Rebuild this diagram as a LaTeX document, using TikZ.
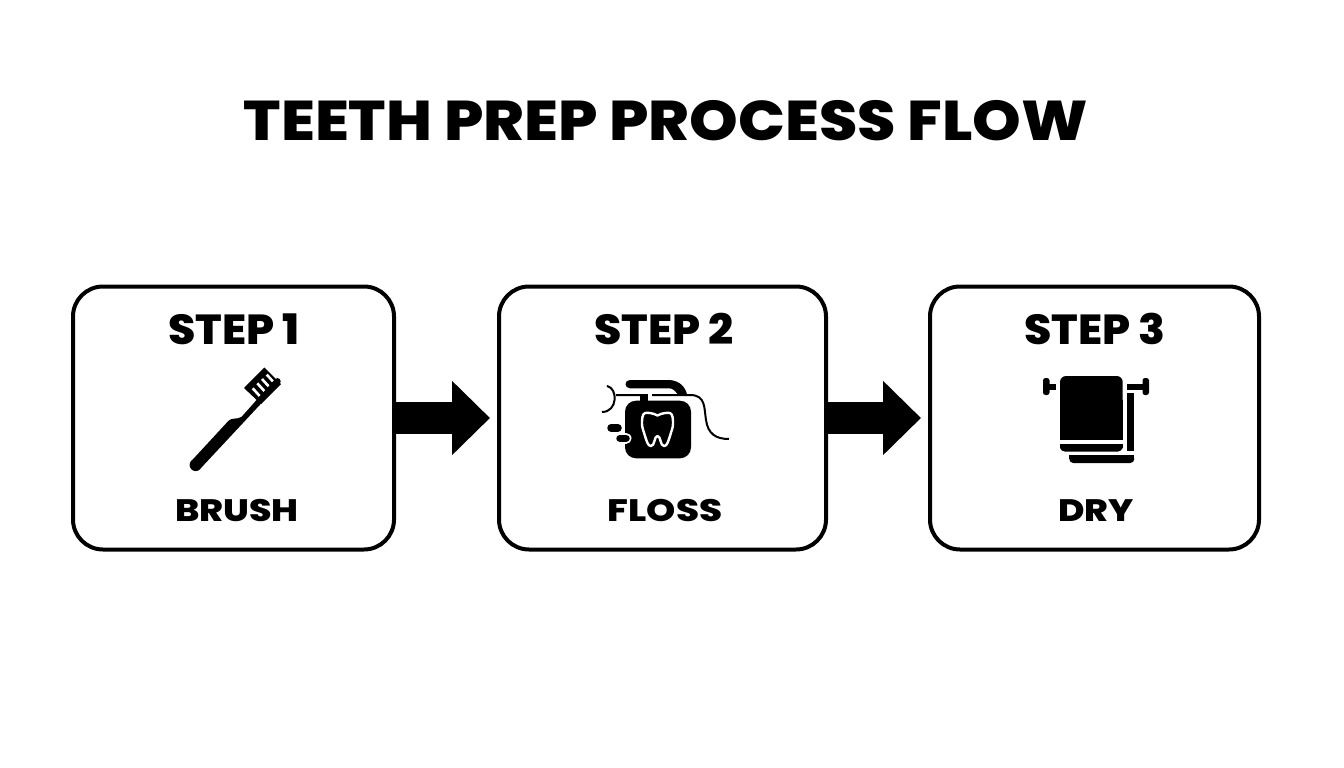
\documentclass[tikz,border=0pt]{standalone}
\usepackage{fontspec}
\setmainfont{Poppins}[UprightFont=* ExtraBold]
\usetikzlibrary{arrows.meta}
\tikzset{
  stepbox/.style={draw=black,line width=4pt,rounded corners=30pt,fill=white,outer sep=0pt,inner sep=0pt},
  flowarrow/.style={line width=32pt,-{Triangle[length=38pt,width=72pt]},shorten >=9pt},
  steptext/.style={font=\fontsize{42}{42}\selectfont,inner sep=0pt},
  labeltext/.style={font=\fontsize{31}{31}\selectfont,inner sep=0pt},
}
\begin{document}
\begin{tikzpicture}[x=1pt,y=-1pt]
\useasboundingbox (0,0) rectangle (1344,768);
\fill[white] (0,0) rectangle (1344,768);
\node[inner sep=0pt,font=\fontsize{56}{56}\selectfont] (title) at (666,121) {\scalebox{1.105}[1]{TEETH PREP PROCESS FLOW}};
\node[stepbox,minimum width=321pt,minimum height=263pt] (b1) at (233.5,418) {};
\node[stepbox,minimum width=327pt,minimum height=263pt] (b2) at (662.5,418) {};
\node[stepbox,minimum width=329pt,minimum height=263pt] (b3) at (1094.5,418) {};
\draw[flowarrow] (b1.east) -- (b2.west);
\draw[flowarrow] (b2.east) -- (b3.west);
\node[steptext] (s1) at (234,329) {\scalebox{1.05}[1]{STEP 1}};
\node[steptext] (s2) at (664,329) {\scalebox{1.05}[1]{STEP 2}};
\node[steptext] (s3) at (1095,329) {\scalebox{1.05}[1]{STEP 3}};
\node[labeltext] (l1) at (237,511) {\scalebox{1.17}[1]{BRUSH}};
\node[labeltext] (l2) at (665,511) {\scalebox{1.2}[1]{FLOSS}};
\node[labeltext] (l3) at (1096,511) {\scalebox{1.16}[1]{DRY}};
% toothbrush
\begin{scope}
\fill (244,388) -- (264.3,367.5) -- (281,384) -- (261,404) -- cycle;
\draw[white,line width=2.6pt] (252.7,388.3) -- (259.7,396) (257.3,383.3) -- (264.5,391.2) (262,379) -- (269,386.7) (266.7,374.6) -- (273,381.5);
\fill[line join=round] (190.7,461.7) -- (228.3,421) .. controls (232,417) and (237,420) .. (241.7,416.7) -- (275,379.3) -- (280,383.3) -- (200.7,468.3) -- cycle;
\fill (195.7,465) circle[radius=6.1pt];
\fill (277.5,381.3) circle[radius=3.2pt];
\end{scope}
% floss
\begin{scope}
\fill[rounded corners=11pt] (625,400.7) rectangle (691,458.3);
\fill (630,380) -- (670,380) .. controls (680,381) and (685.5,387) .. (687.5,396) -- (677.5,394) .. controls (675,391) and (673,388.3) .. (669,388.3) -- (630,388.3) .. controls (624,388.3) and (624,380) .. (630,380) -- cycle;
\draw[line width=2pt] (607,386) .. controls (618,388) and (618,412) .. (602,412);
\draw[line width=2pt] (616,395) -- (642,395) (652,395) -- (690,395) .. controls (706,395) and (704,408) .. (706,420) .. controls (708,434) and (716,439) .. (729,439);
\fill (640,394) rectangle (648,402);
\draw[white,line width=2.4pt,line join=round] (657.5,415.5) .. controls (653,413) and (648,412.5) .. (645,413) .. controls (642,414) and (642,420) .. (642,424) .. controls (642,428) and (644,432) .. (645,436) .. controls (647,442) and (648,446) .. (651,446) .. controls (655,446) and (654,436) .. (657.5,436) .. controls (661,436) and (660,446) .. (664,446) .. controls (667,446) and (668,442) .. (670,436) .. controls (671,432) and (673,428) .. (673,424) .. controls (673,420) and (673,414) .. (670,413) .. controls (667,412.5) and (662,413) .. (657.5,415.5) -- cycle;
\draw[white,line width=11pt,line cap=round] (620,438.3) -- (626,438.3);
\draw[line width=7.5pt,line cap=round] (611,427.8) -- (618,427.8) (620,438.3) -- (626,438.3);
\end{scope}
% towel
\begin{scope}
\fill[rounded corners=6pt] (1060,376) rectangle (1122.7,420);
\fill (1060,400) rectangle (1122.7,440);
\fill[rounded corners=5pt] (1060,444) -- (1122.7,444) -- (1122.7,451.7) -- (1060,451.7) -- cycle;
\fill (1060,444) rectangle (1122.7,448);
\fill[rounded corners=2.5pt] (1043,378) rectangle (1049.5,395);
\fill (1046,384) rectangle (1056,390);
\fill (1127.3,384) rectangle (1145,390);
\fill[rounded corners=2.5pt] (1142.5,378) rectangle (1149,395);
\fill (1127.3,393.3) -- (1134.3,393.3) -- (1134.3,451) -- (1127.3,451) -- cycle;
\fill[rounded corners=4pt] (1069.3,455) -- (1134.3,455) -- (1134.3,463) -- (1069.3,463) -- cycle;
\fill (1069.3,455) rectangle (1134.3,459);
\end{scope}
\end{tikzpicture}
\end{document}
